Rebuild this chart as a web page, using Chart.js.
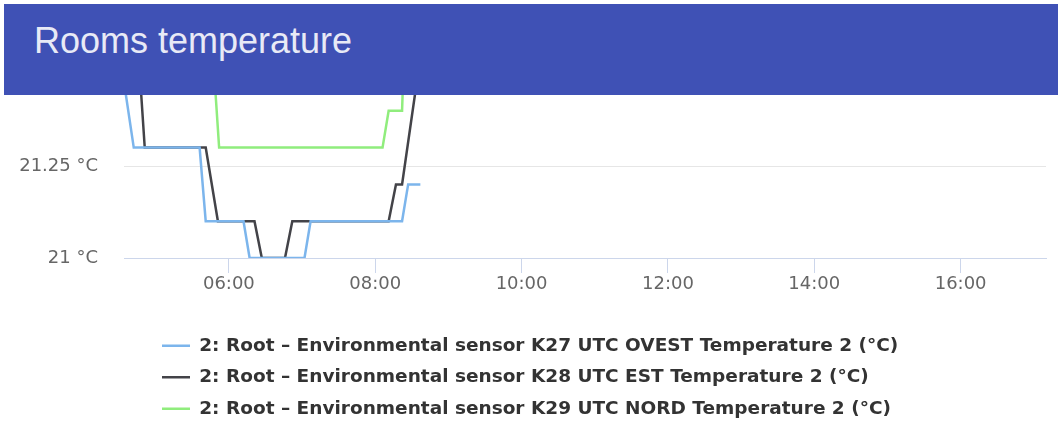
<!DOCTYPE html>
<html>
<head>
<meta charset="utf-8">
<title>Rooms temperature</title>
<script src="https://cdn.jsdelivr.net/npm/chart.js@4.4.1/dist/chart.umd.min.js"></script>
<style>
	html, body { margin: 0; padding: 0; background: #fff; overflow: hidden; }
	#chart-wrap { position: absolute; left: 0; top: 0; width: 1058px; height: 428px; }
	.card-header { position: absolute; left: 4px; top: 4px; width: 1054px; height: 91px; background: #3f51b5; z-index: 2; }
	.card-header h1 { position: absolute; left: 30px; top: 19px; margin: 0; font: 400 36px/36px "Liberation Sans", Arial, sans-serif; color: #e8eaf6; white-space: nowrap; }
</style>
</head>
<body>
<div id="chart-wrap"><canvas id="rooms-temp"></canvas></div>
<div class="card-header"><h1>Rooms temperature</h1></div>
<script>
// series names as in the legend
const k27Label = '2: Root – Environmental sensor K27 UTC OVEST Temperature 2 (°C)';
const k28Label = '2: Root – Environmental sensor K28 UTC EST Temperature 2 (°C)';
const k29Label = '2: Root – Environmental sensor K29 UTC NORD Temperature 2 (°C)';

// readings (time of day, °C)
const k27Times = ['04:33', '04:42', '05:36', '05:41', '06:12', '06:17', '07:02', '07:07', '08:22', '08:27', '08:37'];
const k27Values = [21.5, 21.3, 21.3, 21.1, 21.1, 21.0, 21.0, 21.1, 21.1, 21.2, 21.2];

const k28Times = ['04:47', '04:51', '05:41', '05:51', '06:21', '06:27', '06:46', '06:52', '08:11', '08:17', '08:22', '08:35'];
const k28Values = [21.5, 21.3, 21.3, 21.1, 21.1, 21.0, 21.0, 21.1, 21.1, 21.2, 21.2, 21.5];

const k29Times = ['04:40', '05:48', '05:52', '08:06', '08:11', '08:22', '08:24', '08:36'];
const k29Values = [21.6, 21.5, 21.3, 21.3, 21.4, 21.4, 21.6, 21.6];

const timeTicks = ['06:00', '08:00', '10:00', '12:00', '14:00', '16:00'];
const xRange = ['04:34', '17:10'];
const yRange = [21, 21.5];

const toMinutes = (s) => {
	const [h, m] = s.split(':').map(Number);
	return h * 60 + m;
};
const toClock = (v) => String(Math.floor(v / 60)).padStart(2, '0') + ':' + String(Math.round(v % 60)).padStart(2, '0');
const toPoints = (times, values) => times.map((t, i) => ({ x: toMinutes(t), y: values[i] }));

const makeSeries = (label, times, values, color) => ({
	label: label,
	data: toPoints(times, values),
	borderColor: color,
	backgroundColor: color,
	borderWidth: 2.5,
	pointRadius: 0,
	tension: 0,
	fill: false
});

// legend rows start at the same x, like the original
const legendShift = {
	id: 'legendShift',
	afterLayout(chart) {
		chart.legend.left = 149;
	}
};

Chart.defaults.font.family = '"DejaVu Sans", sans-serif';
Chart.defaults.color = '#666';

new Chart(document.getElementById('rooms-temp'), {
	type: 'line',
	data: {
		datasets: [
			makeSeries(k27Label, k27Times, k27Values, '#7cb5ec'),
			makeSeries(k28Label, k28Times, k28Values, '#434348'),
			makeSeries(k29Label, k29Times, k29Values, '#90ed7d')
		]
	},
	options: {
		responsive: true,
		maintainAspectRatio: false,
		animation: false,
		layout: { padding: { top: 74, right: 12, left: 0, bottom: 0 } },
		scales: {
			x: {
				type: 'linear',
				min: toMinutes(xRange[0]),
				max: toMinutes(xRange[1]),
				afterBuildTicks: (scale) => {
					scale.ticks = timeTicks.map((t) => ({ value: toMinutes(t) }));
				},
				afterFit: (scale) => { scale.height = 65.5; },
				ticks: {
					callback: (v) => toClock(v),
					autoSkip: false,
					maxRotation: 0,
					padding: 1,
					color: '#666',
					font: { size: 18 }
				},
				grid: {
					drawOnChartArea: false,
					drawTicks: true,
					tickLength: 15,
					color: '#ccd6eb'
				},
				border: { display: true, color: '#ccd6eb', width: 1 }
			},
			y: {
				min: yRange[0],
				max: yRange[1],
				afterFit: (scale) => { scale.width = 124; },
				ticks: {
					stepSize: 0.25,
					padding: 26,
					color: '#666',
					font: { size: 18 },
					callback: (v) => v + ' °C'
				},
				grid: {
					drawTicks: false,
					color: (ctx) => ctx.tick && ctx.tick.value === yRange[0] ? '#ccd6eb' : '#e6e6e6'
				},
				border: { display: false }
			}
		},
		plugins: {
			title: { display: false },
			tooltip: { enabled: false },
			legend: {
				display: true,
				position: 'bottom',
				align: 'start',
				labels: {
					usePointStyle: true,
					pointStyle: 'line',
					pointStyleWidth: 28,
					padding: 13,
					color: '#333',
					font: { family: '"DejaVu Sans", sans-serif', size: 18.5, weight: 'bold' }
				}
			}
		}
	},
	plugins: [legendShift]
});
</script>
</body>
</html>
